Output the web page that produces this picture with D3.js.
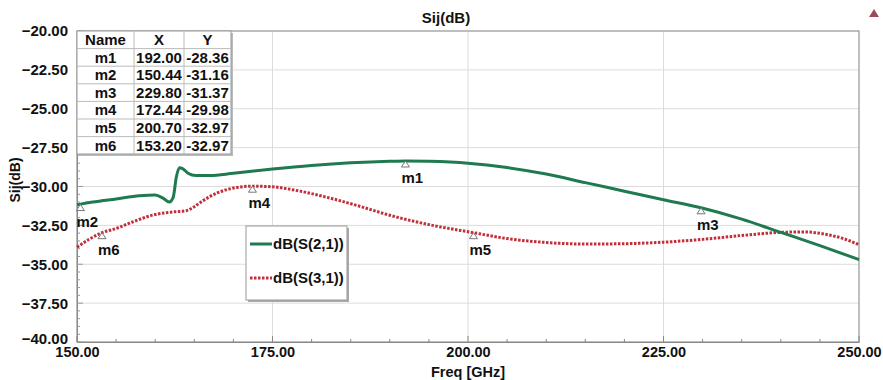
<!DOCTYPE html>
<html><head><meta charset="utf-8">
<script src="https://cdn.jsdelivr.net/npm/d3@7"></script>
<style>body{margin:0;background:#fff}svg{display:block}text{font-family:"Liberation Sans",Arial,sans-serif;font-weight:bold;fill:#111}</style>
</head><body>
<script>
const freqS21 = [150,152,155,158,160,161,161.8,162.3,162.7,163.1,163.5,164.2,165.2,167,170,175,180,185,190,192,195,200,205,210,215,220,225,229.8,235,240,245,250];
const s21 = [-31.18,-31.0,-30.8,-30.6,-30.55,-30.75,-31.0,-30.7,-29.4,-28.8,-28.85,-29.15,-29.3,-29.3,-29.15,-28.88,-28.65,-28.48,-28.38,-28.36,-28.38,-28.5,-28.78,-29.2,-29.75,-30.3,-30.85,-31.37,-32.1,-32.95,-33.8,-34.7];
const freqS31 = [150,153.2,155,157,160,162,164,165,166,168,170,172.44,175,178,182,186,190,195,200.7,205,210,215,220,225,230,235,240,243,246,248,250];
const s31 = [-33.9,-32.97,-32.7,-32.3,-31.8,-31.65,-31.55,-31.3,-30.95,-30.4,-30.1,-29.98,-30.02,-30.25,-30.7,-31.25,-31.85,-32.45,-32.97,-33.35,-33.6,-33.7,-33.68,-33.58,-33.4,-33.15,-32.95,-32.92,-33.1,-33.35,-33.74];
const markerNames = ["m1","m2","m3","m4","m5","m6"];
const markerX = [192.00,150.44,229.80,172.44,200.70,153.20];
const markerY = [-28.36,-31.16,-31.37,-29.98,-32.97,-32.97];
const xTicks = [150,175,200,225,250];
const yTicks = [-20,-22.5,-25,-27.5,-30,-32.5,-35,-37.5,-40];
const seriesNames = ["dB(S(2,1))","dB(S(3,1))"];

const W=883,H=380;
const svg=d3.select("body").append("svg").attr("width",W).attr("height",H);
const x=d3.scaleLinear().domain([150,250]).range([77,859]);
const y=d3.scaleLinear().domain([-40,-20]).range([342,31]);

// grid
svg.append("g").selectAll("line").data(yTicks).join("line")
  .attr("x1",77).attr("x2",859).attr("y1",d=>y(d)).attr("y2",d=>y(d))
  .attr("stroke","#dcdcdc").attr("stroke-width",1);
svg.append("g").selectAll("line").data(xTicks).join("line")
  .attr("y1",31).attr("y2",342).attr("x1",d=>x(d)).attr("x2",d=>x(d))
  .attr("stroke","#dcdcdc").attr("stroke-width",1);
// frame
svg.append("rect").attr("x",77).attr("y",31).attr("width",782).attr("height",311)
  .attr("fill","none").attr("stroke","#a0a0a0").attr("stroke-width",1.2);

// axes
const xAxis=d3.axisBottom(x).tickValues(xTicks).tickFormat(d3.format(".2f")).tickSize(0).tickPadding(5);
const gx=svg.append("g").attr("transform","translate(0,342)").call(xAxis);
gx.select(".domain").attr("stroke","#888");
gx.selectAll("text").style("font-size","14.5px").attr("fill","#111").attr("dy","0.72em");
const yAxis=d3.axisLeft(y).tickValues(yTicks).tickFormat(d3.format(".2f")).tickSize(0).tickPadding(9);
const gy=svg.append("g").attr("transform","translate(77,0)").call(yAxis);
gy.select(".domain").attr("stroke","#888");
gy.selectAll("text").style("font-size","15px").attr("fill","#111").attr("dy",d=>d===-40?"0.1em":"0.33em");
// minor ticks
svg.append("g").selectAll("line").data(d3.range(150,250.01,5)).join("line")
  .attr("x1",d=>x(d)).attr("x2",d=>x(d)).attr("y1",342).attr("y2",d=>(d%25===0)?336:339)
  .attr("stroke","#888");
svg.append("g").selectAll("line").data(d3.range(-40,-19.99,0.5)).join("line")
  .attr("y1",d=>y(d)).attr("y2",d=>y(d)).attr("x1",77).attr("x2",d=>(Math.abs(d%2.5)<1e-6)?83:80)
  .attr("stroke","#999");

// titles
svg.append("text").attr("x",446).attr("y",23).attr("text-anchor","middle").style("font-size","15px").text("Sij(dB)");
svg.append("text").attr("x",468).attr("y",377).attr("text-anchor","middle").style("font-size","14.5px").text("Freq [GHz]");
svg.append("text").attr("transform","translate(20,180) rotate(-90)").attr("text-anchor","middle").style("font-size","14px").text("Sij(dB)");
svg.append("path").attr("d","M874,9 L879,17 L869,17 Z").attr("fill","#9c4a5a");

// lines
const line=d3.line().x(d=>x(d[0])).y(d=>y(d[1])).curve(d3.curveMonotoneX);
svg.append("path").datum(freqS31.map((f,i)=>[f,s31[i]])).attr("d",line)
  .attr("fill","none").attr("stroke","#c1303a").attr("stroke-width",3).attr("stroke-dasharray","2.5,1.5");
svg.append("path").datum(freqS21.map((f,i)=>[f,s21[i]])).attr("d",line)
  .attr("fill","none").attr("stroke","#1f7a4f").attr("stroke-width",3);

// markers
const mk=svg.append("g");
markerNames.forEach((n,i)=>{
  const px=x(markerX[i]), py=y(markerY[i]);
  mk.append("path").attr("d",`M${px},${py} L${px+4},${py+6} L${px-4},${py+6} Z`).attr("fill","#fff").attr("stroke","#777").attr("stroke-width",1);
  mk.append("text").attr("x",px-4).attr("y",py+22).style("font-size","15px").text(n);
});

// marker table
const tX=[77,134,184,231], rowH=17.6, tY=31;
const tbl=svg.append("g");
tbl.append("rect").attr("x",79).attr("y",33).attr("width",154).attr("height",123).attr("fill","#bbb");
tbl.append("rect").attr("x",77).attr("y",31).attr("width",154).attr("height",123).attr("fill","#fff").attr("stroke","#999");
for(let r=1;r<7;r++) tbl.append("line").attr("x1",77).attr("x2",231).attr("y1",tY+r*rowH).attr("y2",tY+r*rowH).attr("stroke","#bbb");
[134,184].forEach(c=>tbl.append("line").attr("x1",c).attr("x2",c).attr("y1",31).attr("y2",154).attr("stroke","#bbb"));
const rows=[["Name","X","Y"]].concat(markerNames.map((n,i)=>[n,markerX[i].toFixed(2),markerY[i].toFixed(2)]));
rows.forEach((r,ri)=>r.forEach((c,ci)=>{
  tbl.append("text").attr("x",(tX[ci]+tX[ci+1])/2).attr("y",tY+ri*rowH+14).attr("text-anchor","middle").style("font-size","15px").text(c);
}));

// legend
const lg=svg.append("g");
lg.append("rect").attr("x",248).attr("y",228).attr("width",101).attr("height",74).attr("fill","#aaa");
lg.append("rect").attr("x",246).attr("y",226).attr("width",101).attr("height",74).attr("fill","#fff").attr("stroke","#999");
lg.append("line").attr("x1",250).attr("x2",272).attr("y1",244).attr("y2",244).attr("stroke","#1f7a4f").attr("stroke-width",3);
lg.append("line").attr("x1",250).attr("x2",272).attr("y1",278).attr("y2",278).attr("stroke","#c1303a").attr("stroke-width",3).attr("stroke-dasharray","2.5,1.5");
lg.append("text").attr("x",273).attr("y",249).style("font-size","15px").text(seriesNames[0]);
lg.append("text").attr("x",273).attr("y",283).style("font-size","15px").text(seriesNames[1]);
</script>
</body></html>
